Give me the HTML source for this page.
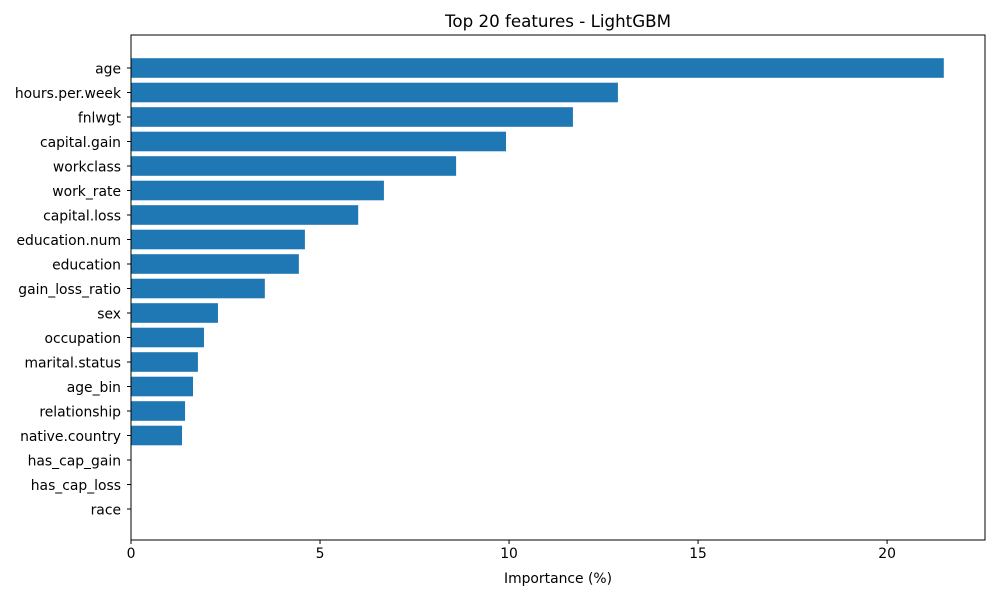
<!DOCTYPE html>
<html><head><meta charset="utf-8">
<style>
body{margin:0;background:#fff;font-family:"DejaVu Sans",sans-serif;}
svg text{font-family:"DejaVu Sans",sans-serif;fill:#000;}
</style></head>
<body>
<svg id="chart" width="1000" height="600" xmlns="http://www.w3.org/2000/svg">
<rect width="1000" height="600" fill="#fff"/>
<text x="558" y="27" font-size="16.7" text-anchor="middle">Top 20 features - LightGBM</text>
<g id="bars"></g>
<g id="axes"></g>
<text x="558" y="583" font-size="13.9" text-anchor="middle">Importance (%)</text>
</svg>
<script>
const features = ["age","hours.per.week","fnlwgt","capital.gain","workclass","work_rate","capital.loss","education.num","education","gain_loss_ratio","sex","occupation","marital.status","age_bin","relationship","native.country","has_cap_gain","has_cap_loss","race"];
const importance = [21.5,12.88,11.69,9.92,8.6,6.69,6.01,4.6,4.44,3.54,2.3,1.93,1.77,1.64,1.43,1.35,0,0,0];
const xTicks = [0,5,10,15,20];

const L=131,R=985,T=35,B=540,XMAX=22.59;
const NS="http://www.w3.org/2000/svg";
const xs=v=>L+v/XMAX*(R-L);
const ys=i=>68+24.5*i;
const bars=document.getElementById('bars'), axes=document.getElementById('axes');
function mk(tag,attrs,parent){const e=document.createElementNS(NS,tag);for(const k in attrs)e.setAttribute(k,attrs[k]);parent.appendChild(e);return e;}
features.forEach((f,i)=>{
  const r=mk('rect',{x:xs(0),y:ys(i)-9.8,width:xs(importance[i])-xs(0),height:19.6,fill:'#1f77b4'},bars);
  
  
  const t=mk('line',{x1:L-4,x2:L,y1:ys(i),y2:ys(i),stroke:'#000','stroke-width':1},axes);
  
  
  const lb=mk('text',{x:L-10,y:ys(i)+5.5,'font-size':13.9,'text-anchor':'end'},axes);
  lb.textContent=f;
  
  
});
xTicks.forEach(v=>{
  const t=mk('line',{x1:xs(v),x2:xs(v),y1:B,y2:B+4,stroke:'#000','stroke-width':1},axes);
  
  
  const lb=mk('text',{x:xs(v),y:B+18,'font-size':13.9,'text-anchor':'middle'},axes);
  lb.textContent=v;
  
  
});
const frame=mk('rect',{x:L,y:T,width:R-L,height:B-T,fill:'none',stroke:'#000','stroke-width':1},axes);


</script>
</body></html>
